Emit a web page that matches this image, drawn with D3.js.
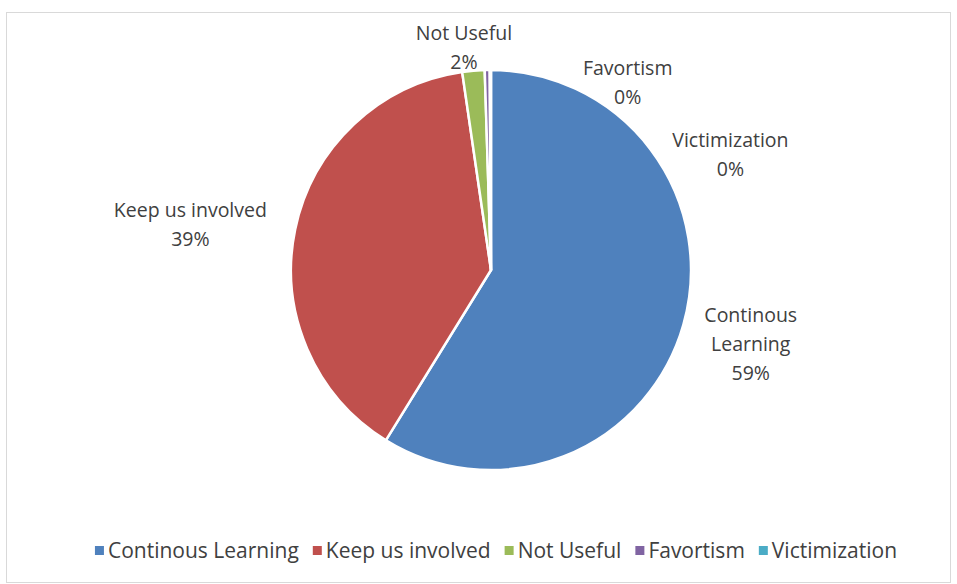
<!DOCTYPE html>
<html>
<head>
<meta charset="utf-8">
<script src="https://cdn.jsdelivr.net/npm/d3@7"></script>
<style>
  body { margin: 0; background: #fff; }
  text { font-family: "Open Sans", sans-serif; fill: #404040; }
</style>
</head>
<body>
<svg width="957" height="584"></svg>
<script>
"use strict";

const categories = ["Continous Learning", "Keep us involved", "Not Useful", "Favortism", "Victimization"];
const values = [58.8, 38.9, 1.8, 0.4, 0.1];
const pctLabels = ["59%", "39%", "2%", "0%", "0%"];
const colors = ["#4F81BD", "#C0504D", "#9BBB59", "#8064A2", "#4BACC6"];

const svg = d3.select("svg");
const width = +svg.attr("width");
const height = +svg.attr("height");

// chart border
svg.append("rect")
  .attr("x", 6.5).attr("y", 12.5)
  .attr("width", width - 13).attr("height", height - 14)
  .attr("fill", "#fff")
  .attr("stroke", "#d9d9d9");

const cx = 491, cy = 270, radius = 200;

const data = categories.map((c, i) => ({ name: c, value: values[i], pct: pctLabels[i], color: colors[i] }));

const pie = d3.pie().sort(null).value((d) => d.value);
const arcs = pie(data);
const arc = d3.arc().innerRadius(0).outerRadius(radius);

const g = svg.append("g").attr("transform", `translate(${cx},${cy})`);

g.selectAll("path")
  .data(arcs)
  .enter()
  .append("path")
  .attr("d", arc)
  .attr("fill", (d) => d.data.color)
  .attr("stroke", "#fff")
  .attr("stroke-width", 2.5)
  .attr("stroke-linejoin", "round");

// label placement, roughly like Excel's best fit
// big slices sit on their mid angle, the tiny ones get spread out clockwise
const labelAngle = [null, null, -0.121, 0.63, 1.12];
const labelAngleShift = [0, -0.055, 0, 0, 0];
const labelRadius = [270, 304, 224, 232, 266];
const lineH = 29;

arcs.forEach((d, i) => {
  const mid = (d.startAngle + d.endAngle) / 2;
  const a = labelAngle[i] !== null ? labelAngle[i] : mid + labelAngleShift[i];
  const r = labelRadius[i];
  const x = r * Math.sin(a);
  const y = -r * Math.cos(a);
  const lines = i === 0 ? ["Continous", "Learning", d.data.pct] : [d.data.name, d.data.pct];
  const t = g.append("text")
    .attr("text-anchor", "middle")
    .style("font-size", "19.5px");
  lines.forEach((ln, k) => {
    t.append("tspan")
      .attr("x", x)
      .attr("y", y + (k - (lines.length - 1) / 2) * lineH + 7)
      .text(ln);
  });
});

// legend
const legend = svg.append("g").attr("transform", `translate(0,551)`);
const items = legend.selectAll("g")
  .data(data)
  .enter()
  .append("g");

items.append("rect")
  .attr("width", 9).attr("height", 9)
  .attr("y", -5)
  .attr("fill", (d) => d.color);

items.append("text")
  .attr("x", 13)
  .attr("y", 7)
  .style("font-size", "21px")
  .text((d) => d.name);

// position items one after another, row centred under the pie
const gap = 14;
const widths = [];
items.each(function () { widths.push(this.getBBox().width); });
const total = d3.sum(widths) + gap * (widths.length - 1);
let xPos = 496 - total / 2;
items.attr("transform", (d, i) => {
  const x = xPos;
  xPos += widths[i] + gap;
  return `translate(${x},0)`;
});
</script>
</body>
</html>
